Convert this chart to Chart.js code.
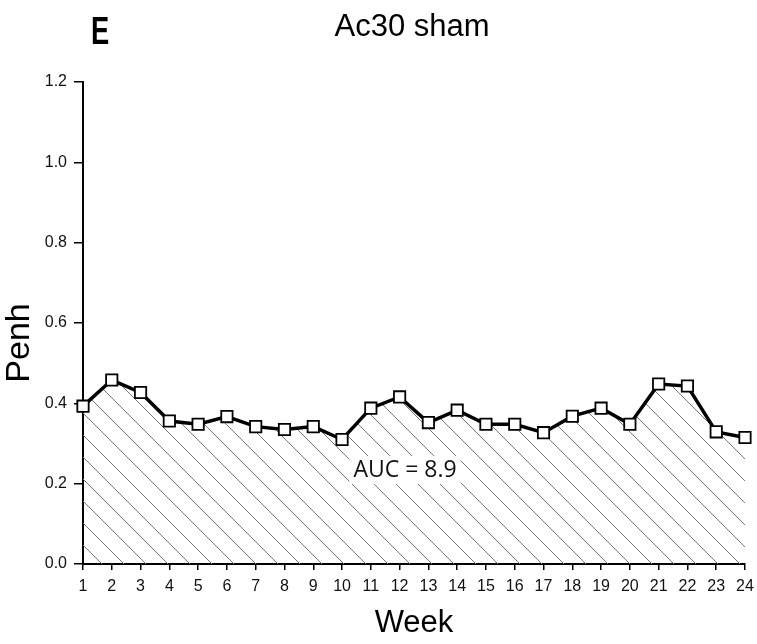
<!DOCTYPE html>
<html>
<head>
<meta charset="utf-8">
<script src="https://cdn.jsdelivr.net/npm/chart.js@4/dist/chart.umd.min.js"></script>
<style>
  html, body { margin: 0; padding: 0; background: #fff; }
  #wrap { width: 757px; height: 644px; }
</style>
</head>
<body>
<div id="wrap"><canvas id="penhChart" width="757" height="644"></canvas></div>
<script>
// Data
const weeks = ['1','2','3','4','5','6','7','8','9','10','11','12','13','14','15','16','17','18','19','20','21','22','23','24'];
const penh = [0.393, 0.458, 0.427, 0.356, 0.348, 0.367, 0.342, 0.335, 0.342, 0.31, 0.388, 0.416,
              0.352, 0.383, 0.348, 0.348, 0.327, 0.368, 0.388, 0.348, 0.448, 0.443, 0.329, 0.315];
const yTicks = [0, 0.2, 0.4, 0.6, 0.8, 1.0, 1.2];
const panelLetter = 'E';
const chartTitle = 'Ac30 sham';
const xTitle = 'Week';
const yTitle = 'Penh';
const aucLabel = 'AUC = 8.9';

const FONT = '"Liberation Sans", Arial, sans-serif';

// Hatch pattern for the area under the curve
function makeHatch() {
    const s = 22;
    const c = document.createElement('canvas');
    c.width = s; c.height = s;
    const g = c.getContext('2d');
    g.strokeStyle = '#777';
    g.lineWidth = 1;
    g.beginPath();
    g.moveTo(-2, -2); g.lineTo(s + 2, s + 2);
    g.moveTo(-2, s - 2); g.lineTo(2, s + 2);
    g.moveTo(s - 2, -2); g.lineTo(s + 2, 2);
    g.stroke();
    return g.createPattern(c, 'repeat');
}

const labelsPlugin = {
    id: 'labelsPlugin',
    afterDatasetsDraw(chart) {
        const ctx = chart.ctx;
        ctx.save();
        // AUC text with white box behind
        ctx.font = '23px "Open Sans", "Noto Sans", sans-serif';
        ctx.textAlign = 'center';
        ctx.textBaseline = 'middle';
        const w = ctx.measureText(aucLabel).width;
        ctx.fillStyle = '#fff';
        ctx.fillRect(405 - w / 2 - 4, 456, w + 8, 28);
        ctx.fillStyle = '#111';
        ctx.fillText(aucLabel, 405, 470);
        ctx.restore();
    },
    afterDraw(chart) {
        const ctx = chart.ctx;
        const area = chart.chartArea;
        ctx.save();
        ctx.fillStyle = '#000';
        ctx.textAlign = 'center';
        ctx.textBaseline = 'alphabetic';
        // condensed bold panel letter
        ctx.save();
        ctx.translate(100, 44);
        ctx.scale(0.7, 1);
        ctx.font = 'bold 39px ' + FONT;
        ctx.fillText(panelLetter, 0, 0);
        ctx.restore();
        ctx.font = '31px ' + FONT;
        ctx.fillText(chartTitle, 412, 36);
        ctx.fillText(xTitle, (area.left + area.right) / 2, 632);
        ctx.save();
        ctx.translate(29, 343);
        ctx.rotate(-Math.PI / 2);
        ctx.font = '34px ' + FONT;
        ctx.fillText(yTitle, 0, 0);
        ctx.restore();
        ctx.restore();
    }
};

const canvas = document.getElementById('penhChart');
const ctx = canvas.getContext('2d');

new Chart(ctx, {
    type: 'line',
    data: {
        labels: weeks,
        datasets: [{
            data: penh,
            borderColor: '#000',
            borderWidth: 3.5,
            backgroundColor: makeHatch(),
            fill: 'start',
            tension: 0,
            pointStyle: 'rect',
            pointRadius: 8,
            pointBorderWidth: 1.8,
            pointBackgroundColor: '#fff',
            pointBorderColor: '#000'
        }]
    },
    options: {
        responsive: false,
        animation: false,
        devicePixelRatio: 1,
        layout: { padding: { top: 82, right: 12, left: 0, bottom: 0 } },
        plugins: {
            legend: { display: false },
            tooltip: { enabled: false }
        },
        scales: {
            x: {
                offset: false,
                grid: { display: true, drawOnChartArea: false, drawTicks: true, tickLength: 6, color: '#000', lineWidth: 1.5 },
                border: { color: '#000', width: 2 },
                ticks: {
                    color: '#111',
                    font: { family: FONT, size: 16 },
                    padding: 7,
                    maxRotation: 0,
                    autoSkip: false
                },
                afterFit(scale) {
                    scale.height = 80;
                    scale.paddingLeft = 0;
                    scale.paddingRight = 0;
                }
            },
            y: {
                min: 0,
                max: 1.2,
                afterBuildTicks(scale) { scale.ticks = yTicks.map(v => ({ value: v })); },
                grid: { display: true, drawOnChartArea: false, drawTicks: true, tickLength: 9, color: '#000', lineWidth: 1.5 },
                border: { color: '#000', width: 2 },
                ticks: {
                    color: '#111',
                    font: { family: FONT, size: 16 },
                    padding: 7,
                    callback: v => Number(v).toFixed(1)
                },
                afterFit(scale) { scale.width = 83; }
            }
        }
    },
    plugins: [labelsPlugin]
});
</script>
</body>
</html>
